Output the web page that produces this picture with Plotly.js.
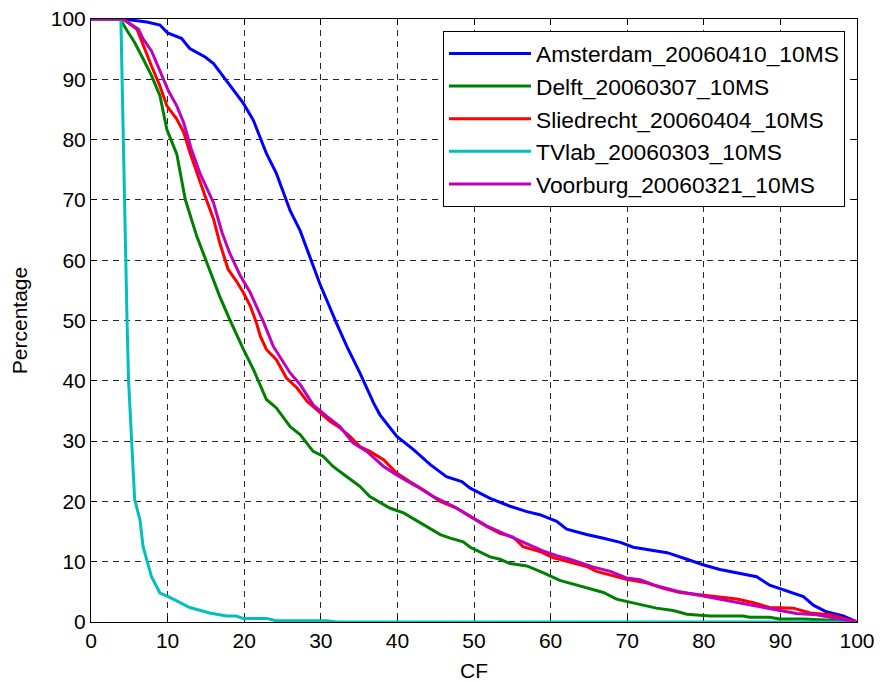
<!DOCTYPE html>
<html>
<head>
<meta charset="utf-8">
<script src="https://cdn.plot.ly/plotly-3.0.1.min.js"></script>
<style>
  html, body { margin: 0; padding: 0; background: #fff; }
  #chart { width: 882px; height: 682px; }
</style>
</head>
<body>
<div id="chart"></div>
<script>
// Series names (legend order)
const seriesNames = [
  "Amsterdam_20060410_10MS",
  "Delft_20060307_10MS",
  "Sliedrecht_20060404_10MS",
  "TVlab_20060303_10MS",
  "Voorburg_20060321_10MS"
];

// Amsterdam
const amsterdamX = [0, 4.2, 7.3, 9, 10, 11.8, 12.9, 14.9, 16, 17.3, 19.9, 21.2, 22.9, 24.2, 26, 27.3, 28.6, 29.9, 32.1, 33.4, 35.1, 36.9, 37.7, 39.9, 42.1, 44.3, 46.4, 48.4, 49.5, 52.1, 54.7, 56.9, 58.6, 60.8, 62.1, 64.7, 66.9, 69.1, 70.8, 73.8, 75.2, 77.8, 79.9, 82.1, 84.3, 86.9, 88.6, 90.4, 93, 94.3, 96, 98.2, 100];
const amsterdamY = [100, 100, 99.5, 99, 97.7, 96.8, 95.1, 93.7, 92.6, 90.4, 86, 83.2, 77.7, 74.4, 68.2, 64.9, 60.5, 56, 49.4, 45.7, 41.3, 36.3, 34.4, 30.8, 28.6, 26.1, 24.1, 23.3, 22.2, 20.5, 19.2, 18.3, 17.8, 16.7, 15.4, 14.5, 13.9, 13.2, 12.4, 11.7, 11.5, 10.4, 9.5, 8.7, 8.2, 7.5, 6.1, 5.3, 4.2, 2.8, 1.7, 1, 0];

// Delft
const delftX = [0, 3.8, 4.7, 5.7, 6.8, 7.9, 9, 9.9, 11.2, 12.3, 13.8, 15.1, 16.8, 18.1, 19.9, 21.2, 22.9, 24.2, 26, 27.3, 29, 30.3, 31.6, 33.4, 35.1, 36.4, 39, 40.8, 43.4, 45.6, 46.9, 48.6, 49.5, 52.1, 53.4, 54.7, 56.9, 59, 61.2, 64.3, 66.9, 68.6, 71.2, 73.8, 76, 77.8, 80.8, 85.1, 86, 88.6, 89.9, 93, 96.5, 100];
const delftY = [100, 100, 98.1, 96.1, 93.4, 90.6, 87.3, 81.7, 77.6, 70.1, 64, 59.6, 54, 50.2, 45.2, 41.9, 36.9, 35.5, 32.4, 31.1, 28.3, 27.5, 25.8, 24.1, 22.5, 20.8, 18.9, 18.1, 16.1, 14.5, 13.9, 13.3, 12.4, 10.8, 10.4, 9.7, 9.3, 8.2, 6.9, 5.8, 4.9, 3.8, 3, 2.3, 1.9, 1.3, 1, 1, 0.8, 0.8, 0.5, 0.5, 0.3, 0];

// Sliedrecht
const sliedrechtX = [0, 4.2, 6, 6.8, 7.9, 9, 9.9, 11.2, 12.1, 12.9, 13.8, 14.9, 16, 16.8, 17.9, 19, 19.9, 20.8, 21.6, 22.1, 22.9, 24.2, 25.5, 26.9, 28.2, 29.9, 31.2, 32.5, 33.8, 35.1, 36.4, 38.2, 39.9, 41.6, 43.4, 45.6, 47.7, 49.5, 51.7, 53.4, 55.1, 56.4, 58.6, 60.3, 62.5, 64.7, 66, 67.8, 69.9, 72.5, 74.7, 76.9, 79.9, 82.1, 84.3, 86.5, 88.6, 91.7, 93.9, 96.5, 98.2, 100];
const sliedrechtY = [100, 100, 98.3, 95.6, 92.2, 88.9, 85.6, 83.4, 81.2, 77.9, 74.5, 70.6, 66.8, 62.9, 58.5, 56.5, 54.6, 52.4, 49.6, 47.4, 45.2, 43.5, 40.5, 38.8, 36.6, 34.7, 33.3, 32.2, 30.8, 29.1, 28.3, 26.9, 24.7, 23.3, 21.9, 20, 18.9, 17.5, 15.8, 14.7, 14.1, 12.5, 11.7, 10.7, 10, 9.2, 8.4, 7.8, 7.1, 6.5, 5.6, 4.9, 4.5, 4.1, 3.8, 3.2, 2.4, 2.3, 1.5, 1.2, 0.6, 0];

// TVlab
const tvlabX = [0, 3.9, 4.7, 4.9, 5.3, 5.7, 6.4, 6.8, 7.9, 9, 10.1, 11.2, 12.9, 15.5, 17.7, 18.9, 19.9, 22.9, 24.2, 30.8, 32.1, 100];
const tvlabY = [100, 100, 50.2, 40.2, 30.2, 20.3, 16.9, 12.5, 7.5, 4.8, 4.2, 3.5, 2.4, 1.5, 1, 1, 0.6, 0.6, 0.2, 0.2, 0, 0];

// Voorburg
const voorburgX = [0, 4.2, 6.2, 6.8, 7.9, 9, 10.1, 11.2, 12.1, 13.1, 14.2, 16, 17.1, 18.1, 19.5, 20.8, 22.5, 23.8, 26, 27.3, 29, 30.8, 32.5, 34.2, 36, 38.2, 39.9, 42.5, 44.7, 47.3, 49.5, 51.7, 54.7, 56.9, 59, 60.8, 62.5, 65.6, 67.8, 69.9, 71.7, 73.8, 76.9, 79.9, 82.1, 84.3, 86.9, 89.9, 92.1, 94.7, 97.3, 100];
const voorburgY = [100, 100, 98.3, 96.7, 94.7, 91.4, 88.1, 85.6, 82.8, 78.4, 74.5, 69.5, 64.6, 61.2, 57.4, 54.6, 49.8, 45.7, 41.3, 39.4, 36, 34.1, 32.4, 29.7, 28.3, 25.8, 24.4, 22.5, 20.8, 19.2, 17.6, 15.9, 14.2, 13, 11.8, 11, 10.4, 9.1, 8.4, 7.3, 7, 6, 5, 4.3, 3.8, 3.2, 2.7, 2, 1.4, 1.2, 0.6, 0];

const xTickVals = [0, 10, 20, 30, 40, 50, 60, 70, 80, 90, 100];
const yTickVals = [0, 10, 20, 30, 40, 50, 60, 70, 80, 90, 100];

const xs = [amsterdamX, delftX, sliedrechtX, tvlabX, voorburgX];
const ys = [amsterdamY, delftY, sliedrechtY, tvlabY, voorburgY];
const colors = ["#0000ff", "#008000", "#ff0000", "#00bfbf", "#bf00bf"];

const FONT = "Liberation Sans, Arial, Helvetica, sans-serif";

const traces = seriesNames.map((name, i) => ({
  type: "scatter",
  mode: "lines",
  name: name,
  x: xs[i],
  y: ys[i],
  line: { color: colors[i], width: 3 }
}));

const axisCommon = {
  showline: true,
  linecolor: "#000",
  linewidth: 1,
  mirror: "ticks",
  ticks: "inside",
  ticklen: 6,
  tickcolor: "#000",
  tickwidth: 1,
  showgrid: true,
  gridcolor: "rgb(40,40,40)",
  gridwidth: 1,
  griddash: "6px,5px",
  zeroline: false,
  layer: "below traces",
  tickfont: { family: FONT, size: 21, color: "#000" },
  range: [0, 100],
  autorange: false,
  fixedrange: true
};

const layout = {
  width: 882,
  height: 682,
  paper_bgcolor: "#fff",
  plot_bgcolor: "#fff",
  margin: { l: 91, r: 25, t: 19, b: 60 },
  showlegend: true,
  xaxis: Object.assign({}, axisCommon, {
    tickvals: xTickVals,
    ticktext: xTickVals.map(String),
    title: { text: "CF", font: { family: FONT, size: 21, color: "#000" }, standoff: 13 }
  }),
  yaxis: Object.assign({}, axisCommon, {
    tickvals: yTickVals,
    ticktext: yTickVals.map(String),
    title: { text: "Percentage", font: { family: FONT, size: 21, color: "#000" }, standoff: 17 }
  }),
  legend: {
    x: 0.4595,
    y: 0.98,
    xanchor: "left",
    yanchor: "top",
    bgcolor: "#fff",
    bordercolor: "#000",
    borderwidth: 1,
    font: { family: FONT, size: 22.8, color: "#000" },
    itemwidth: 82
  }
};

Plotly.newPlot("chart", traces, layout, { staticPlot: true, displayModeBar: false });
</script>
</body>
</html>
